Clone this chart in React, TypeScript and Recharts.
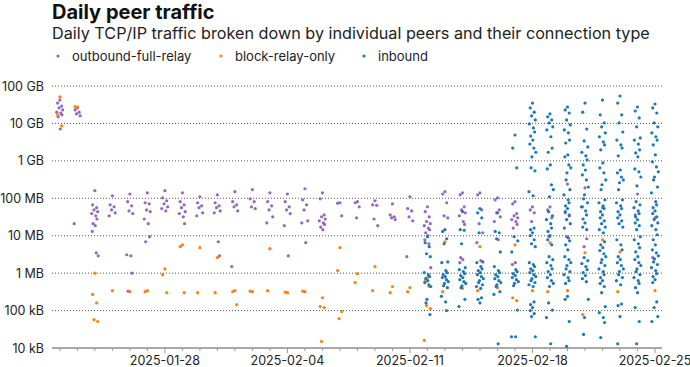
import React from 'react';
import { ScatterChart, Scatter, XAxis, YAxis, CartesianGrid } from 'recharts';

// one inner list per day, starting 2025-01-22 (index 0) up to 2025-02-25 (index 34)
const outboundFullRelay: number[][] = [
  [4.2e10, 3.5e10, 2.9e10, 2.6e10, 2.3e10, 2.0e10, 1.9e10, 1.7e10, 1.5e10, 7.1e9],
  [2.6e10, 2.3e10, 2.0e10, 1.8e10, 1.6e10, 2.1e7],
  [1.6e8, 6.7e7, 5.6e7, 4.9e7, 4.4e7, 3.9e7, 3.4e7, 2.8e7, 2.1e7, 1.85e7, 1.3e7, 3.5e6, 2.9e6],
  [1.17e8, 6.7e7, 5.9e7, 4.9e7, 4.1e7, 3.4e7],
  [1.3e8, 8.1e7, 6.3e7, 4.6e7, 3.9e7, 3.1e6, 2.9e6, 1.0e6, 3.3e5],
  [1.4e8, 7.6e7, 7.1e7, 4.9e7, 4.4e7, 2.8e7, 2.1e7, 9.4e6, 6.9e6],
  [1.6e8, 1.03e8, 8.6e7, 7.1e7, 5.9e7, 5.3e7, 4.6e7],
  [1.4e8, 8.1e7, 6.7e7, 5.6e7, 4.4e7, 3.9e7, 3.2e7, 2.1e7],
  [1.1e8, 7.6e7, 6.3e7, 5.6e7, 4.1e7, 3.4e7],
  [1.24e8, 7.6e7, 6.3e7, 5.6e7, 4.6e7, 4.1e7, 6.9e6, 2.9e6],
  [1.5e8, 8.1e7, 6.7e7, 5.9e7, 4.6e7, 1.5e6],
  [1.7e8, 9.7e7, 8.1e7, 5.9e7, 5.3e7],
  [1.4e8, 8.1e7, 6.3e7, 4.9e7, 3.2e7, 2.2e7],
  [1.3e8, 8.1e7, 5.9e7, 4.9e7, 3.9e7, 1.85e7, 2.9e6],
  [1.8e8, 9.1e7, 6.7e7, 4.9e7, 2.5e7, 2.2e7, 6.5e6],
  [1.4e8, 9.7e7, 3.6e7, 3.2e7, 2.8e7, 2.5e7, 2.2e7, 2.0e7, 1.7e7, 1.45e7],
  [7.6e7, 7.4e7, 3.4e7],
  [8.1e7, 7.6e7, 5.9e7, 3.0e7],
  [8.6e7, 6.7e7, 6.5e7, 2.8e7, 1.85e7],
  [7.1e7, 3.6e7, 3.2e7, 3.0e7, 2.7e7],
  [1.1e8, 5.3e7, 4.6e7, 3.2e7, 2.5e7, 2.75e6],
  [5.9e7, 4.4e7, 3.2e7, 2.4e7, 2.1e7, 1.85e7, 1.6e7, 1.45e7, 1.2e7, 1.0e7, 7.8e6, 6.1e6, 1.4e6],
  [1.5e8, 1.3e8, 7.6e7, 3.4e7, 3.0e7],
  [1.4e8, 1.24e8, 5.9e7, 4.9e7, 4.1e7, 3.4e7, 2.4e7, 2.0e7, 2.6e6, 2.3e6, 1.9e6],
  [1.4e8, 1.24e8, 4.9e7, 2.1e7, 1.2e7, 6.5e6, 2.15e6],
  [1.03e8, 9.1e7, 4.9e7, 4.1e7, 3.2e7, 2.4e7, 7.8e6],
  [8.1e7, 7.1e7, 3.9e7, 3.4e7, 3.0e7, 2.7e7, 2.4e7, 2.0e7, 1.6e7, 1.9e6, 1.7e6],
  [5.9e7, 4.9e7, 4.1e7, 2.4e7],
  [5.9e7, 4.9e7, 3.0e7, 9.4e6],
  [2.4e8, 4.1e7, 3.6e7, 9.4e6],
  [1.9e8, 5.9e7, 8.3e6, 5.1e6],
  [5.6e7],
  [],
  [1.3e8, 3.6e7],
  [3.0e7, 2.6e6],
];

const blockRelayOnly: number[][] = [
  [5.1e10, 1.7e10, 8.6e9],
  [2.75e10, 2.8e10],
  [1.0e6, 2.7e5, 1.6e5, 5.7e4, 5.1e4],
  [3.4e5],
  [3.2e5],
  [3.4e5, 3.2e5],
  [1.3e6, 9.1e5, 3.0e5],
  [5.7e6, 5.1e6, 3.0e5],
  [4.8e6, 3.0e5],
  [2.6e6, 3.0e5],
  [3.4e5, 3.2e5, 1.45e5],
  [3.2e5, 3.3e5],
  [4.5e6, 3.4e5],
  [3.0e5, 3.1e5],
  [3.2e5, 3.3e5],
  [2.2e5, 1.28e5, 1.2e5, 1.5e4],
  [4.8e6, 1.17e6, 9.4e4, 6.1e4],
  [9.7e5, 5.6e5],
  [1.5e6, 3.4e5],
  [4.4e5, 3.0e5],
  [4.1e5, 3.2e5],
  [7.6e5, 5.9e5, 4.4e5, 1.36e5, 1.13e5, 1.6e4],
  [6.9e6, 3.2e5],
  [3.9e5],
  [5.1e6, 3.4e5],
  [4.1e5],
  [5.7e6, 2.2e5, 1.85e5],
  [3.4e5],
  [6.5e6, 3.2e5],
  [3.4e5],
  [3.5e6, 7.8e4],
  [7.8e6],
  [3.7e6, 3.2e5],
  [],
  [3.4e5],
];

const inbound: number[][] = [
  [], [], [], [], [], [], [], [], [], [], [], [], [], [], [], [], [], [], [], [], [],
  [9.4e6, 6.5e6, 5.1e6, 3.3e6, 2.75e6, 1.03e6, 9.1e5, 8.1e5, 7.1e5, 6.3e5, 5.6e5, 4.9e5, 4.4e5, 2.0e5, 1.6e5, 7.8e4],
  [1.45e7, 1.3e7, 8.3e6, 6.1e6, 2.0e6, 1.9e6, 1.17e6, 1.03e6, 9.1e5, 8.1e5, 7.6e5, 6.7e5, 5.9e5, 5.3e5, 4.6e5, 4.1e5, 2.4e5, 1.7e5, 1.0e5],
  [4.4e7, 1.45e7, 1.4e7, 6.1e6, 1.4e6, 1.24e6, 1.1e6, 9.7e5, 8.6e5, 7.6e5, 6.7e5, 5.9e5, 5.3e5, 4.6e5, 4.1e5, 2.0e5, 1.28e5],
  [5.3e7, 4.1e7, 3.0e7, 1.2e7, 2.0e6, 1.9e6, 1.5e6, 1.3e6, 1.17e6, 1.03e6, 9.1e5, 8.1e5, 7.1e5, 6.3e5, 5.6e5, 4.9e5, 4.4e5, 3.9e5, 2.2e5, 2.0e5, 1.6e5],
  [4.1e7, 1.3e7, 1.2e7, 8.3e6, 3.7e6, 1.5e6, 1.17e6, 1.03e6, 9.1e5, 8.1e5, 7.1e5, 6.3e5, 5.6e5, 4.9e5, 4.4e5, 3.2e5, 2.7e5, 1.3e4],
  [4.9e9, 2.2e9, 6.5e8, 9.4e6, 7.3e6, 3.7e6, 1.24e6, 1.1e6, 9.7e5, 8.6e5, 7.6e5, 6.7e5, 5.9e5, 5.3e5, 4.6e5, 1.03e5, 2.0e4, 2.0e4],
  [3.5e10, 2.6e10, 2.0e10, 1.6e10, 1.24e10, 9.7e9, 7.6e9, 5.9e9, 4.6e9, 3.6e9, 2.8e9, 2.2e9, 1.7e9, 1.28e9, 6.5e8, 5.4e8,
    1.5e8, 1.17e8, 1.6e7, 1.45e7, 1.2e7, 1.0e7, 7.8e6, 6.1e6, 5.1e6, 1.9e6, 1.7e6, 1.5e6, 1.3e6, 1.17e6, 1.03e6, 9.1e5,
    8.1e5, 7.1e5, 6.3e5, 5.6e5, 4.9e5, 4.4e5, 1.7e5, 1.45e5, 1.2e5, 1.0e5, 8.3e4, 6.9e4, 2.0e4],
  [1.8e10, 1.5e10, 1.24e10, 1.03e10, 8.1e9, 6.7e9, 4.4e9, 2.2e9, 1.7e9, 7.8e8, 6.1e8, 2.3e8, 1.7e8, 1.1e8, 4.4e7, 3.4e7,
    2.7e7, 2.1e7, 1.6e7, 1.3e7, 1.0e7, 7.8e6, 5.7e6, 2.75e6, 2.3e6, 1.9e6, 1.6e6, 1.3e6, 1.1e6, 9.1e5, 7.6e5, 6.3e5,
    5.3e5, 4.4e5, 1.6e5, 1.03e5, 6.5e4, 1.3e4],
  [2.75e10, 2.3e10, 1.9e10, 1.24e10, 9.1e9, 6.7e9, 5.6e9, 3.6e9, 3.0e9, 1.45e9, 1.28e9, 7.8e8, 6.5e8, 4.8e8, 3.1e8, 1.7e8,
    1.24e8, 9.1e7, 7.6e7, 6.3e7, 5.3e7, 4.4e7, 3.4e7, 2.7e7, 2.1e7, 1.6e7, 8.8e6, 7.3e6, 5.7e6, 4.2e6, 2.75e6, 2.3e6,
    1.9e6, 1.6e6, 1.3e6, 1.1e6, 9.1e5, 7.6e5, 6.3e5, 5.3e5, 2.4e5, 2.0e5, 5.1e4, 1.1e4],
  [3.5e10, 2.0e10, 7.1e9, 3.4e9, 2.36e9, 1.7e9, 1.36e9, 1.06e9, 7.8e8, 5.7e8, 4.2e8, 3.1e8, 2.0e8, 1.24e8, 9.7e7, 7.6e7,
    5.9e7, 4.6e7, 3.6e7, 2.8e7, 2.2e7, 1.7e7, 1.45e7, 2.6e6, 2.15e6, 1.8e6, 1.5e6, 1.24e6, 1.03e6, 8.6e5, 7.1e5, 5.9e5,
    2.0e5, 6.5e4, 2.3e4],
  [4.2e10, 1.7e10, 1.03e10, 8.1e9, 5.6e9, 4.4e9, 3.2e9, 2.67e9, 1.97e9, 8.8e8, 6.5e8, 4.8e8, 3.1e8, 2.3e8, 1.7e8, 9.1e7,
    7.6e7, 6.3e7, 5.3e7, 4.4e7, 3.6e7, 3.0e7, 2.5e7, 2.1e7, 1.7e7, 1.45e7, 1.2e7, 6.9e6, 5.7e6, 4.8e6, 4.0e6, 3.3e6,
    2.75e6, 2.3e6, 1.9e6, 1.6e6, 1.3e6, 1.1e6, 9.1e5, 7.6e5, 6.3e5, 5.3e5, 4.4e5, 3.0e5, 1.28e5, 8.8e4, 6.5e4, 4.8e4, 1.9e4],
  [5.4e10, 3.5e10, 1.7e10, 1.03e10, 5.9e9, 3.6e9, 2.67e9, 2.2e9, 1.36e9, 5.7e8, 4.8e8, 3.7e8, 3.1e8, 2.6e8, 1.7e8, 9.1e7,
    7.6e7, 6.3e7, 5.3e7, 4.4e7, 3.6e7, 3.0e7, 2.5e7, 2.1e7, 1.7e7, 7.8e6, 5.7e6, 4.2e6, 2.75e6, 2.3e6, 1.9e6, 1.6e6,
    1.3e6, 1.1e6, 9.1e5, 7.6e5, 6.3e5, 4.9e5, 1.5e5, 1.36e5, 6.9e4, 1.3e4],
  [2.75e10, 2.15e10, 1.4e10, 8.1e9, 4.1e9, 3.6e9, 2.8e9, 1.97e9, 1.63e9, 1.28e9, 6.1e8, 5.1e8, 3.7e8, 2.15e8, 8.1e7, 6.7e7,
    5.6e7, 4.6e7, 3.9e7, 3.2e7, 2.7e7, 2.2e7, 1.85e7, 1.45e7, 9.4e6, 7.8e6, 6.1e6, 4.8e6, 3.7e6, 2.75e6, 2.3e6, 1.9e6,
    1.6e6, 1.3e6, 1.1e6, 9.1e5, 7.6e5, 6.3e5, 5.3e5, 4.1e5, 3.0e5, 1.2e5, 5.1e4, 1.3e4],
  [3.3e10, 2.6e10, 1.9e10, 1.03e10, 8.1e9, 5.6e9, 4.4e9, 3.6e9, 2.67e9, 1.45e9, 9.4e8, 6.9e8, 5.1e8, 3.7e8, 3.1e8, 2.0e8,
    1.4e8, 8.1e7, 6.7e7, 5.6e7, 4.6e7, 3.9e7, 3.2e7, 2.7e7, 2.2e7, 1.85e7, 1.45e7, 1.06e7, 7.8e6, 5.7e6, 4.2e6, 3.5e6,
    2.9e6, 2.4e6, 2.0e6, 1.7e6, 1.4e6, 1.17e6, 9.7e5, 8.1e5, 6.7e5, 5.6e5, 1.7e5, 1.2e5, 6.9e4, 5.1e4],
];

// horizontal spread of the dots inside one day, in days
const JITTER = [0.0, -0.13, 0.1, -0.05, 0.16, -0.18, 0.05, 0.12, -0.1, 0.02, -0.15, 0.08, 0.19, -0.03, -0.08, 0.14, -0.2, 0.04, 0.09, -0.11];

const Y_TICKS = [1e4, 1e5, 1e6, 1e7, 1e8, 1e9, 1e10, 1e11];
const Y_LABELS = ['10 kB', '100 kB', '1 MB', '10 MB', '100 MB', '1 GB', '10 GB', '100 GB'];
const DAY_TICKS = Array.from({ length: 35 }, (_, i) => i);
const X_LABELS: Record<number, string> = {
  6: '2025-01-28',
  13: '2025-02-04',
  20: '2025-02-11',
  27: '2025-02-18',
  34: '2025-02-25',
};

const SERIES = [
  { name: 'outbound-full-relay', days: outboundFullRelay, color: '#9467bd' },
  { name: 'block-relay-only', days: blockRelayOnly, color: '#ff7f0e' },
  { name: 'inbound', days: inbound, color: '#1f77b4' },
];

const LEGEND_X = [58, 221, 364];

function toPoints(days: number[][]) {
  const pts: { x: number; y: number }[] = [];
  days.forEach((vals, d) => {
    vals.forEach((v, i) => pts.push({ x: d + JITTER[i % JITTER.length], y: v }));
  });
  return pts;
}

function DayTick({ x, y, payload }: any) {
  const label = X_LABELS[payload.value];
  return (
    <g>
      <line x1={x} x2={x} y1={y} y2={y + (label ? 5 : 3)} stroke="#999" />
      {label && (
        <text x={x} y={y + 17} textAnchor="middle" fontSize={12.5} fill="#222">
          {label}
        </text>
      )}
    </g>
  );
}

function SizeTick({ x, y, payload }: any) {
  const label = Y_LABELS[Y_TICKS.indexOf(payload.value)] ?? '';
  return (
    <text x={x} y={y} dy="0.36em" textAnchor="end" fontSize={12.5} fill="#222">
      {label}
    </text>
  );
}

export default function App() {
  return (
    <div style={{ position: 'absolute', left: 0, top: 0, width: 690, height: 367, background: '#fff', fontFamily: 'Inter, sans-serif' }}>
      <ScatterChart width={690} height={367} margin={{ top: 86, right: 28, bottom: 0, left: 0 }}>
        <CartesianGrid horizontal vertical={false} stroke="#555" strokeDasharray="1 2" />
        <XAxis
          type="number"
          dataKey="x"
          domain={[-0.45, 34.4]}
          ticks={DAY_TICKS}
          interval={0}
          allowDataOverflow
          height={19}
          tickSize={0}
          tickMargin={0}
          tick={<DayTick />}
          axisLine={{ stroke: '#aaa', strokeWidth: 2 }}
        />
        <YAxis
          type="number"
          dataKey="y"
          scale="log"
          domain={[1e4, 1e11]}
          ticks={Y_TICKS}
          interval={0}
          allowDataOverflow
          width={52}
          tickLine={false}
          axisLine={false}
          tickSize={0}
          tickMargin={8}
          tick={<SizeTick />}
        />
        {SERIES.map((s) => (
          <Scatter
            key={s.name}
            name={s.name}
            data={toPoints(s.days)}
            isAnimationActive={false}
            shape={(p: any) => <circle cx={p.cx} cy={p.cy} r={1.6} fill={s.color} />}
          />
        ))}
      </ScatterChart>
      <svg width={690} height={70} style={{ position: 'absolute', left: 0, top: 0 }}>
        <text x={52} y={18.5} fontSize={20} fontWeight={700} fill="#111">Daily peer traffic</text>
        <text x={52} y={38.5} fontSize={16.2} fill="#222">
          Daily TCP/IP traffic broken down by individual peers and their connection type
        </text>
        {SERIES.map((s, i) => (
          <g key={s.name}>
            <circle cx={LEGEND_X[i]} cy={56} r={1.6} fill={s.color} />
            <text x={LEGEND_X[i] + 14} y={60.5} fontSize={13} fill="#222">{s.name}</text>
          </g>
        ))}
      </svg>
    </div>
  );
}
